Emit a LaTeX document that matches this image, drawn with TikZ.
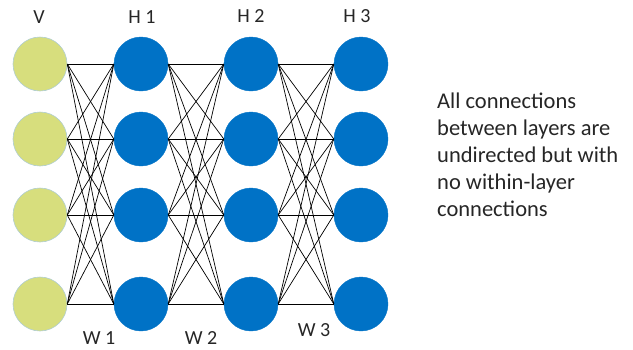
\documentclass[tikz,border=0pt]{standalone}
\usepackage{fontspec}
\setmainfont{Carlito}

\definecolor{visfill}{RGB}{215,222,125}
\definecolor{visline}{RGB}{175,205,210}
\definecolor{hidfill}{RGB}{0,114,198}

\tikzset{
  visunit/.style={circle, fill=visfill, draw=visline, line width=0.6pt,
    minimum size=54pt, inner sep=0pt},
  hidunit/.style={circle, fill=hidfill, draw=hidfill, minimum size=54pt, inner sep=0pt},
  link/.style={black, line width=0.7pt},
  lbl/.style={font=\fontsize{20}{24}\selectfont, text=black!85},
  note/.style={align=left, inner sep=0pt, font=\fontsize{22.5}{27}\selectfont, text=black!85}
}

\begin{document}
\begin{tikzpicture}[x=1pt,y=-1pt]
    \useasboundingbox (0,0) rectangle (633,349);

        % units: layer 0 is visible, 1 to 3 are hidden
        \foreach \l/\x in {0/40,1/141,2/251,3/361} {
            \foreach \i/\y in {1/64,2/139,3/215,4/304} {
                \ifnum\l=0
                    \node[visunit] (n\l\i) at (\x,\y) {};
                \else
                    \node[hidunit] (n\l\i) at (\x,\y) {};
                \fi
            }
        }

        % full connections between neighbouring layers
        \foreach \l/\m in {0/1,1/2,2/3}
            \foreach \i in {1,...,4}
                \foreach \j in {1,...,4}
                    \draw[link] (n\l\i.east) -- (n\m\j.west);

        \node[lbl] (lv) at (39,17) {V};
        \node[lbl] (lh1) at (142,17) {H 1};
        \node[lbl] (lh2) at (251,16) {H 2};
        \node[lbl] (lh3) at (357,16) {H 3};

        \node[lbl] (lw1) at (99,338) {W 1};
        \node[lbl] (lw2) at (201,338) {W 2};
        \node[lbl] (lw3) at (314,330) {W 3};

        \node[note, anchor=north west] (txt) at (437,93)
            {All connections\\between layers are\\undirected but with\\no within-layer\\connections};

    \end{tikzpicture}
\end{document}
